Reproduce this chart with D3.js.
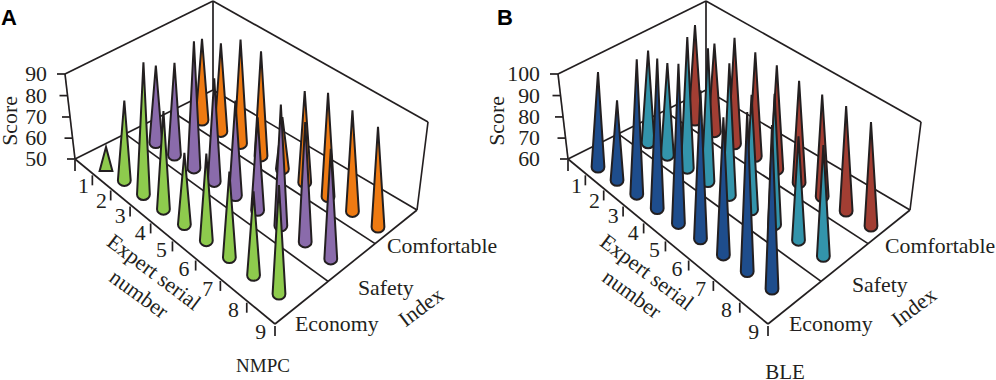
<!DOCTYPE html>
<html>
<head>
<meta charset="utf-8">
<script src="https://cdn.jsdelivr.net/npm/d3@7"></script>
<style>
  body { margin: 0; background: #fff; }
  text { font-family: "Liberation Serif", serif; font-size: 21.8px; fill: #231f20; }
</style>
</head>
<body>
<svg id="chart" width="996" height="380"></svg>
<script>
const experts = [1, 2, 3, 4, 5, 6, 7, 8, 9];
const indexNames = ["Economy", "Safety", "Comfortable"];

// scores, a lot of them run past the top of the axis
const nmpcEconomy = [59.5, 86.8, 110.5, 95, 83, 90, 89.5, 88.6, 100];
const nmpcSafety = [85.5, 92.3, 108, 97.3, 93.6, 92.7, 105.5, 105, 100.5];
const nmpcComfortable = [87.3, 90.5, 97.7, 98, 74, 92, 97.7, 96.4, 96];

const bleEconomy = [103.6, 96.8, 121.8, 128.6, 133, 128, 123, 133, 135];
const bleSafety = [102.3, 102.3, 120, 121, 120.5, 112.7, 120, 107.7, 111];
const bleComfortable = [103.6, 100.5, 108.6, 107.7, 107.7, 106.8, 106.8, 108.2, 107.7];

const nmpcTicks = [50, 60, 70, 80, 90];
const bleTicks = [60, 70, 80, 90, 100];

const ink = "#231f20";
const svg = d3.select("#chart");

// square to quad mapping, the floor of the box is drawn in perspective
function quad(p0, p1, p2, p3) {
  let dx1 = p1[0] - p2[0], dx2 = p3[0] - p2[0], sx = p0[0] - p1[0] + p2[0] - p3[0];
  let dy1 = p1[1] - p2[1], dy2 = p3[1] - p2[1], sy = p0[1] - p1[1] + p2[1] - p3[1];
  let den = dx1 * dy2 - dx2 * dy1;
  let g = (sx * dy2 - dx2 * sy) / den;
  let h = (dx1 * sy - sx * dy1) / den;
  let a = p1[0] - p0[0] + g * p1[0], b = p3[0] - p0[0] + h * p3[0];
  let d = p1[1] - p0[1] + g * p1[1], e = p3[1] - p0[1] + h * p3[1];
  return function(u, v) {
    let w = g * u + h * v + 1;
    return [(a * u + b * v + p0[0]) / w, (d * u + e * v + p0[1]) / w];
  };
}

function conePath(x, y, tall, flat) {
  let r = 6.4;
  if (flat) {
    return `M${x},${y - tall}L${x + r},${y + 3}L${x - r},${y + 3}Z`;
  }
  return `M${x},${y - tall}L${x + r},${y - 1}A${r},5.5 0 0 1 ${x - r},${y - 1}Z`;
}

function drawPanel(cfg) {
  let g = svg.append("g").attr("transform", `translate(${cfg.dx},0)`);
  let floor = quad([75, 159], [275, 324], [417, 210], [213, 90]);
  let grid = quad(cfg.grid[0], cfg.grid[1], cfg.grid[2], cfg.grid[3]);

  let uScale = d3.scalePoint().domain(experts).range([0, 1]);
  let vScale = d3.scalePoint().domain(indexNames).range([0, 1]);
  let zScale = d3.scaleLinear().domain(d3.extent(cfg.ticks)).range([0, 88]);
  let wallY = d3.scalePow().exponent(1.08).domain(d3.extent(cfg.ticks)).range([159, 74]);
  let wallX = d3.scaleLinear().domain(d3.extent(cfg.ticks)).range([75, 65]);

  let lines = [
    [[65, 74], [213, 1]], [[213, 1], [428, 122]], [[428, 122], [417, 210]],
    [[213, 1], [213, 90]], [[65, 74], [75, 159]],
    [floor(0, 0), floor(1, 0)], [floor(1, 0), floor(1, 1)],
    [floor(0, 0), floor(0, 1)], [floor(0, 1), floor(1, 1)],
    [floor(0, 1 / 3), floor(1, 1 / 3)], [floor(0, 2 / 3), floor(1, 2 / 3)]
  ];
  d3.range(10).forEach(i => {
    let p = floor(i / 9, 0);
    lines.push([[p[0], p[1] + (i == 0 ? 1 : 2)], [p[0], p[1] + 12]]);
  });
  cfg.ticks.forEach(t => {
    lines.push([[wallX(t), wallY(t)], [wallX(t) - 8, wallY(t)]]);
  });

  g.selectAll("line.frame")
    .data(lines)
    .enter()
    .append("line")
      .attr("class", "frame")
      .attr("x1", d => d[0][0])
      .attr("y1", d => d[0][1])
      .attr("x2", d => d[1][0])
      .attr("y2", d => d[1][1])
      .attr("stroke", ink)
      .attr("stroke-width", 1.7);

  // back row first so the near cones sit on top
  for (let row = indexNames.length - 1; row >= 0; row--) {
    let rowData = cfg.series[row].map((s, i) => ({ expert: experts[i], score: s }));
    g.append("g").selectAll("path")
      .data(rowData)
      .enter()
      .append("path")
        .attr("d", d => {
          let p = grid(uScale(d.expert), vScale(indexNames[row]));
          return conePath(p[0], p[1], zScale(d.score), zScale(d.score) < 30);
        })
        .attr("fill", cfg.colors[row])
        .attr("stroke", ink)
        .attr("stroke-width", 2)
        .attr("stroke-linejoin", "miter")
        .attr("stroke-miterlimit", 4);
  }

  g.selectAll("text.score")
    .data(cfg.ticks)
    .enter()
    .append("text")
      .attr("class", "score")
      .attr("x", 47)
      .attr("y", d => wallY(d) + 7)
      .attr("text-anchor", "end")
      .text(d => d);

  g.selectAll("text.expert")
    .data(experts)
    .enter()
    .append("text")
      .attr("class", "expert")
      .attr("x", (d, i) => floor((i + 0.5) / 9, 0)[0])
      .attr("y", (d, i) => floor((i + 0.5) / 9, 0)[1] + 27)
      .attr("text-anchor", "middle")
      .text(d => d);

  g.selectAll("text.index")
    .data(indexNames)
    .enter()
    .append("text")
      .attr("class", "index")
      .attr("x", (d, i) => cfg.indexPos[i][0])
      .attr("y", (d, i) => cfg.indexPos[i][1])
      .text(d => d);

  g.append("text")
    .attr("transform", `translate(${cfg.scoreX},121) rotate(-90)`)
    .attr("text-anchor", "middle")
    .text("Score");
  g.append("text")
    .attr("transform", "translate(154,272) rotate(37)")
    .attr("text-anchor", "middle")
    .attr("dy", "0.33em")
    .text("Expert serial");
  g.append("text")
    .attr("transform", "translate(139,294) rotate(36)")
    .attr("text-anchor", "middle")
    .attr("dy", "0.33em")
    .text("number");
  g.append("text")
    .attr("transform", "translate(421,307) rotate(-37)")
    .attr("text-anchor", "middle")
    .attr("dy", "0.33em")
    .text("Index");

  g.append("text")
    .attr("x", cfg.nameX)
    .attr("y", cfg.nameY)
    .attr("text-anchor", "middle")
    .style("font-size", cfg.nameSize)
    .text(cfg.name);

  g.append("text")
    .attr("x", cfg.letterX)
    .attr("y", 25)
    .style("font-family", "'Liberation Sans', sans-serif")
    .style("font-weight", "bold")
    .style("font-size", "22px")
    .style("fill", "#000")
    .text(cfg.letter);
}

drawPanel({
  dx: 0,
  letter: "A",
  letterX: 1,
  name: "NMPC",
  nameX: 263,
  nameY: 372,
  nameSize: "19px",
  scoreX: 17,
  ticks: nmpcTicks,
  series: [nmpcEconomy, nmpcSafety, nmpcComfortable],
  colors: ["#8ecb4d", "#8a6bab", "#ee7a12"],
  grid: [[106, 168], [279, 295], [378, 228], [202, 121]],
  indexPos: [[295, 331], [358, 295], [387, 253]]
});

drawPanel({
  dx: 493,
  letter: "B",
  letterX: 4,
  name: "BLE",
  nameX: 292,
  nameY: 379,
  nameSize: "21px",
  scoreX: 11,
  ticks: bleTicks,
  series: [bleEconomy, bleSafety, bleComfortable],
  colors: ["#1e4d8c", "#3394ab", "#a23e33"],
  grid: [[105, 168], [279, 290], [378, 227], [202, 121]],
  indexPos: [[296, 331], [359, 292], [392, 253]]
});
</script>
</body>
</html>
